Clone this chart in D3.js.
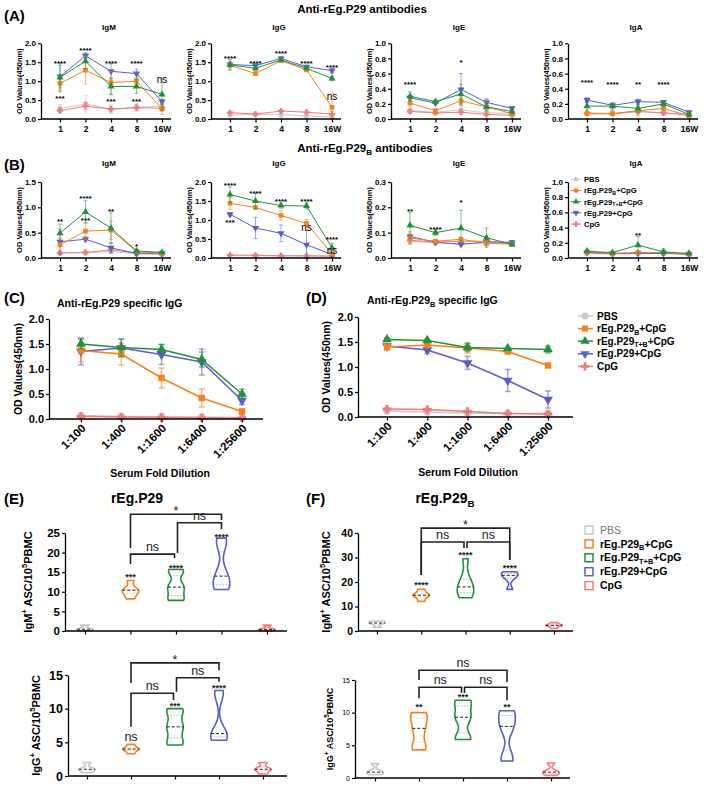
<!DOCTYPE html>
<html><head><meta charset="utf-8">
<script src="https://cdn.jsdelivr.net/npm/d3@7"></script>
<style>body{margin:0;background:#fff} svg{display:block} text{font-family:"Liberation Sans",Arial,sans-serif}</style>
</head><body><svg id="c" width="709" height="788"></svg>
<script>
// ---------- DATA ----------
const timepoints = ["1","2","4","8","16W"];
const dilutions = ["1:100","1:400","1:1600","1:6400","1:25600"];
// group order: PBS, rEg.P29B+CpG, rEg.P29T+B+CpG, rEg.P29+CpG, CpG
const groupLabels = [[["PBS"]],[["rEg.P29"],["B","sub"],["+CpG"]],[["rEg.P29"],["T+B","sub"],["+CpG"]],[["rEg.P29+CpG"]],[["CpG"]]];
const groupColors = ["#c9c9c9","#f5821f","#23913c","#5d5dca","#f27a7a"];

// (A) Anti-rEg.P29 antibodies (means, SD)
const aIgM = [[0.28,0.40,0.26,0.31,0.34],[0.94,1.29,0.96,1.00,0.27],[1.10,1.53,0.86,0.86,0.65],[1.12,1.67,1.26,1.20,0.46],[0.22,0.34,0.26,0.30,0.28]];
const aIgMErr = [[0.10,0.22,0.12,0.10,0.08],[0.18,0.37,0.30,0.08,0.15],[0.38,0.20,0.22,0.18,0.43],[0.30,0.08,0.20,0.12,0.06],[0.05,0.10,0.08,0.08,0.05]];
const aIgG = [[0.11,0.12,0.12,0.08,0.06],[1.42,1.20,1.54,1.30,0.31],[1.43,1.34,1.56,1.34,1.07],[1.44,1.41,1.60,1.38,1.28],[0.17,0.13,0.21,0.18,0.13]];
const aIgGErr = [[0.03,0.03,0.08,0.05,0.03],[0.10,0.04,0.04,0.05,0.37],[0.14,0.05,0.04,0.04,0.06],[0.04,0.04,0.04,0.03,0.06],[0.03,0.03,0.04,0.04,0.10]];
const aIgE = [[0.11,0.09,0.12,0.08,0.08],[0.21,0.11,0.24,0.16,0.07],[0.30,0.23,0.33,0.16,0.10],[0.28,0.21,0.39,0.22,0.14],[0.10,0.08,0.09,0.06,0.05]];
const aIgEErr = [[0.03,0.02,0.04,0.04,0.02],[0.05,0.02,0.05,0.11,0.02],[0.06,0.02,0.13,0.05,0.03],[0.03,0.02,0.21,0.04,0.02],[0.02,0.02,0.03,0.06,0.02]];
const aIgA = [[0.07,0.07,0.10,0.08,0.07],[0.07,0.07,0.11,0.14,0.04],[0.17,0.17,0.14,0.20,0.06],[0.25,0.18,0.23,0.22,0.09],[0.08,0.07,0.10,0.08,0.05]];
const aIgAErr = [[0.02,0.02,0.07,0.02,0.02],[0.02,0.02,0.06,0.04,0.01],[0.05,0.05,0.05,0.04,0.02],[0.03,0.02,0.03,0.02,0.01],[0.02,0.02,0.03,0.02,0.01]];

// (B) Anti-rEg.P29B antibodies
const bIgM = [[0.10,0.10,0.13,0.08,0.07],[0.26,0.53,0.55,0.13,0.09],[0.49,0.91,0.59,0.14,0.11],[0.32,0.37,0.20,0.09,0.10],[0.10,0.11,0.16,0.10,0.08]];
const bIgMErr = [[0.02,0.02,0.03,0.02,0.01],[0.12,0.17,0.18,0.03,0.02],[0.18,0.22,0.30,0.03,0.02],[0.25,0.05,0.10,0.02,0.02],[0.02,0.02,0.03,0.02,0.01]];
const bIgG = [[0.06,0.06,0.05,0.05,0.05],[1.44,1.33,1.12,0.91,0.11],[1.67,1.50,1.38,1.37,0.27],[1.15,0.79,0.65,0.35,0.09],[0.08,0.07,0.06,0.06,0.05]];
const bIgGErr = [[0.01,0.01,0.01,0.01,0.01],[0.16,0.05,0.12,0.10,0.03],[0.20,0.20,0.07,0.08,0.12],[0.05,0.28,0.22,0.38,0.02],[0.01,0.01,0.01,0.01,0.01]];
const bIgE = [[0.066,0.060,0.057,0.057,0.057],[0.079,0.066,0.074,0.059,0.054],[0.129,0.100,0.118,0.080,0.054],[0.085,0.062,0.054,0.063,0.062],[0.070,0.063,0.066,0.066,0.059]];
const bIgEErr = [[0.010,0.005,0.005,0.010,0.005],[0.025,0.008,0.008,0.010,0.005],[0.050,0.010,0.070,0.038,0.005],[0.010,0.005,0.005,0.010,0.005],[0.010,0.005,0.005,0.010,0.005]];
const bIgA = [[0.06,0.05,0.06,0.06,0.06],[0.07,0.06,0.07,0.07,0.05],[0.09,0.07,0.17,0.08,0.06],[0.07,0.06,0.06,0.06,0.05],[0.08,0.06,0.07,0.07,0.05]];
const bIgAErr = [[0.01,0.01,0.01,0.01,0.01],[0.02,0.01,0.02,0.02,0.01],[0.02,0.01,0.11,0.04,0.01],[0.01,0.01,0.01,0.01,0.01],[0.02,0.01,0.02,0.02,0.01]];

// (C)/(D) specific IgG by dilution
const cIgG = [[0.07,0.05,0.05,0.04,0.03],[1.37,1.30,0.82,0.42,0.15],[1.50,1.43,1.39,1.19,0.50],[1.35,1.42,1.29,1.14,0.37],[0.05,0.04,0.03,0.02,0.02]];
const cIgGErr = [[0.02,0.02,0.02,0.01,0.01],[0.23,0.22,0.20,0.18,0.04],[0.10,0.17,0.10,0.15,0.10],[0.27,0.18,0.20,0.26,0.08],[0.01,0.01,0.01,0.01,0.01]];
const dIgG = [[0.12,0.10,0.08,0.07,0.07],[1.40,1.44,1.38,1.31,1.03],[1.55,1.53,1.39,1.37,1.35],[1.42,1.34,1.08,0.73,0.35],[0.16,0.15,0.11,0.07,0.06]];
const dIgGErr = [[0.02,0.02,0.02,0.01,0.01],[0.06,0.04,0.10,0.03,0.02],[0.03,0.03,0.08,0.02,0.07],[0.05,0.07,0.13,0.22,0.17],[0.02,0.02,0.02,0.01,0.01]];

// significance annotations [time index, value, text]
const aIgMSig = [[0,1.52,"****"],[1,1.87,"****"],[2,1.52,"****"],[3,1.52,"****"],[4,1.02,"ns"],[0,0.59,"***"],[2,0.53,"***"],[3,0.53,"***"]];
const aIgGSig = [[0,1.67,"****"],[1,1.54,"****"],[2,1.78,"****"],[3,1.54,"****"],[4,1.43,"****"],[4,0.57,"ns"]];
const aIgESig = [[0,0.49,"****"],[2,0.78,"*"]];
const aIgASig = [[0,0.51,"****"],[1,0.49,"****"],[2,0.49,"**"],[3,0.49,"****"]];
const bIgMSig = [[0,0.76,"**"],[1,1.22,"****"],[1,0.78,"***"],[2,0.96,"**"],[3,0.28,"*"]];
const bIgGSig = [[0,1.98,"****"],[1,1.76,"****"],[2,1.54,"****"],[3,1.54,"****"],[3,0.79,"ns"],[4,0.54,"****"],[4,0.18,"ns"],[0,0.99,"***"]];
const bIgESig = [[0,0.192,"**"],[1,0.122,"****"],[2,0.228,"*"]];
const bIgASig = [[2,0.33,"**"]];

// (E)/(F) ASC per 10^5 PBMC, individual values per group
const eIgM = [[0,0.3,0.6,1.5],[8.2,9.5,10.4,10.6,12.9],[7.8,8.4,11,11.4,15,15.7],[10.6,11.4,13,15,22,23.7],[0,0.3,0.5,1.5]];
const eIgG = [[0.5,1,1,2],[3.3,3.8,4,4.2,4.7],[4.6,5.2,7,7.6,9.5,10],[5.3,5.8,6,6.6,12,12.7],[0.3,1,1,2]];
const fIgM = [[1.4,3,3.5,4.1],[12.1,14,14.6,15.2,17],[13.6,15,17.5,18.5,22,29.5],[17,21.5,22.7,23.5,24.2],[1,2,2.3,2.6,3.4]];
const fIgG = [[0.5,0.8,1,2.2],[4.3,5,7,8.2,9.5,10],[5.9,6.2,9,9.6,11.5,11.9],[2.6,3.2,7.5,8.3,10,10.3],[0.4,0.8,1,2.3]];
// brackets [fromGroup, toGroup, barValue, leftEndValue, rightEndValue, label]
const eIgMBr = [[1,2,19.6,17.1,18.6,"ns"],[1,3,29.8,21.2,28.3,"*"],[2,3,27.6,19.9,26.0,"ns"]];
const eIgGBr = [[1,3,16.8,13.8,15.7,"*"],[1,2,12.3,7.3,11.3,"ns"],[2,3,14.6,12.5,14.0,"ns"]];
const fIgMBr = [[1,3,42.0,22.9,29.0,"*"],[1,2,36.3,22.9,33.9,"ns"],[2,3,36.3,33.9,29.0,"ns"]];
const fIgGBr = [[1,3,16.5,15.0,14.7,"ns"],[1,2,13.9,12.2,13.0,"ns"],[2,3,13.9,13.0,11.9,"ns"]];
// per-group significance [group, value, text]
const eIgMSig = [[1,14.3,"***"],[2,16.6,"****"],[3,24.5,"****"]];
const eIgGSig = [[1,5.7,"ns"],[2,10.8,"***"],[3,13.5,"****"]];
const fIgMSig = [[1,19.6,"****"],[2,31.8,"****"],[3,26.5,"****"]];
const fIgGSig = [[1,11.2,"**"],[2,12.7,"***"],[3,11.2,"**"]];

// ---------- DRAWING ----------
const S = d3.select("#c");
const FONT = '"Liberation Sans",Arial,sans-serif';

function rich(t, parts, fs){
  let shift = 0;
  parts.forEach(p=>{
    const mode = p[1]||"n";
    const target = mode==="sub"? fs*0.25 : mode==="sup"? -fs*0.42 : 0;
    const ts = t.append("tspan").text(p[0]).attr("dy", target-shift);
    ts.attr("font-size", mode!=="n"? fs*0.7 : fs);
    shift = target;
  });
  return t;
}
function txt(x,y,parts,fs,opts={}){
  const t = S.append("text").attr("x",x).attr("y",y).attr("font-size",fs)
    .attr("font-weight",opts.weight||"bold").attr("text-anchor",opts.anchor||"start")
    .attr("fill",opts.fill||"#000");
  if(opts.rotate) t.attr("transform",`rotate(${opts.rotate},${x},${y})`);
  return rich(t, typeof parts==="string"?[[parts]]:parts, fs);
}
function symPath(i,size){
  const types=[d3.symbolCircle,d3.symbolSquare,d3.symbolTriangle,d3.symbolTriangle,d3.symbolCross];
  return d3.symbol().type(types[i]).size(size)();
}
function marker(g,i,x,y,size){
  g.append("path").attr("d",symPath(i,size)).attr("fill",groupColors[i])
   .attr("transform",`translate(${x},${y})${i===3?" rotate(180)":""}`);
}
function sigBaseline(cy,text,fs){ return /[a-z]/.test(text)? cy+0.27*fs : cy+0.6*fs; }

function yAxis(g,y,x0,ticks,fmt,fs,weight){
  const ax = g.append("g").attr("transform",`translate(${x0},0)`)
    .call(d3.axisLeft(y).tickValues(ticks).tickFormat(fmt).tickSize(3).tickSizeOuter(0).tickPadding(2));
  ax.select(".domain").attr("stroke","#000").attr("stroke-width",1.3);
  ax.selectAll(".tick line").attr("stroke","#000").attr("stroke-width",1.2);
  ax.selectAll("text").attr("font-size",fs).attr("font-weight",weight||"bold").attr("font-family",FONT).attr("fill","#000");
  return ax;
}
function xAxis(g,x,x0,xEnd,yb,fs,labels){
  const ax = g.append("g").attr("transform",`translate(0,${yb})`)
    .call(d3.axisBottom(x).tickSize(3.5).tickSizeOuter(0).tickPadding(3));
  ax.select(".domain").remove();
  ax.selectAll(".tick line").attr("stroke","#000").attr("stroke-width",1.2);
  ax.selectAll("text").attr("font-size",fs).attr("font-weight","bold").attr("font-family",FONT).attr("fill","#000");
  if(!labels) ax.selectAll("text").remove();
  g.append("line").attr("x1",x0).attr("x2",xEnd).attr("y1",yb).attr("y2",yb).attr("stroke","#000").attr("stroke-width",1.3);
  return ax;
}

function linePanel(o){
  const g = S.append("g");
  const x = d3.scalePoint().domain(o.cats).range([o.x1,o.x2]);
  const y = d3.scaleLinear().domain([0,o.max]).range([o.yb,o.yt]);
  [0,4,3,1,2].forEach(i=>{
    const m=o.means[i], e=o.errs[i], c=groupColors[i];
    const eg=g.append("g").attr("stroke",c).attr("stroke-opacity",0.55).attr("stroke-width",o.lw);
    m.forEach((v,j)=>{
      const cx=x(o.cats[j]), lo=y(Math.max(0,v-e[j])), hi=y(v+e[j]);
      eg.append("line").attr("x1",cx).attr("x2",cx).attr("y1",lo).attr("y2",hi);
      eg.append("line").attr("x1",cx-o.cap).attr("x2",cx+o.cap).attr("y1",hi).attr("y2",hi);
      eg.append("line").attr("x1",cx-o.cap).attr("x2",cx+o.cap).attr("y1",lo).attr("y2",lo);
    });
    g.append("path").datum(m).attr("fill","none").attr("stroke",c).attr("stroke-width",o.lw)
      .attr("d",d3.line().x((d,j)=>x(o.cats[j])).y(d=>y(d)));
    m.forEach((v,j)=>marker(g,i,x(o.cats[j]),y(v),o.ms));
  });
  yAxis(g,y,o.x0,d3.range(0,o.max+o.step/2,o.step),d3.format(o.fmt),o.tfs);
  const ax = xAxis(g,x,o.x0,o.xEnd,o.yb,o.xfs||o.tfs,true);
  if(o.rotate){
    ax.selectAll("text").attr("text-anchor","end").attr("dy",null).attr("y",0)
      .attr("transform","translate(5,10) rotate(-45)");
  }
  txt(o.x0-o.ylabOff,(o.yt+o.yb)/2,"OD Values(450nm)",o.lfs,{anchor:"middle",rotate:-90});
  if(o.title) txt((o.x0+o.xEnd)/2+3,o.titleY,o.title,o.tifs,{anchor:"middle"});
  (o.sig||[]).forEach(s=>{
    const fs = /[a-z]/.test(s[2])? o.nsfs : o.afs;
    txt(x(o.cats[s[0]]),sigBaseline(y(s[1]),s[2],fs),s[2],fs,{anchor:"middle",weight:/[a-z]/.test(s[2])?"normal":"bold"});
  });
  return {x,y};
}

function violinPanel(o){
  const g = S.append("g");
  const x = d3.scalePoint().domain(d3.range(5)).range([o.x1,o.x2]);
  const y = d3.scaleLinear().domain([0,o.max]).range([o.yb,o.yt]);
  const W = 8.3;
  o.samples.forEach((vals,i)=>{
    const s = vals.slice().sort(d3.ascending);
    const lo=s[0], hi=s[s.length-1], h=Math.max((hi-lo)*0.17,0.15);
    const dens = v=>d3.mean(s,d=>Math.exp(-0.5*((v-d)/h)**2));
    const ys = d3.range(41).map(k=>lo+(hi-lo)*k/40);
    const ds = ys.map(dens), dm=d3.max(ds);
    const cx=x(i), c=groupColors[i];
    const pts = ys.map((v,k)=>[v,ds[k]/dm*W]);
    g.append("path").datum(pts).attr("fill","#fff").attr("stroke",c).attr("stroke-width",1.6)
      .attr("d",d3.area().curve(d3.curveMonotoneY).y(d=>y(d[0])).x0(d=>cx-d[1]).x1(d=>cx+d[1]));
    const q1=d3.quantile(s,0.25), md=d3.median(s), q3=d3.quantile(s,0.75);
    [q1,q3].forEach(q=>{const w=dens(q)/dm*W;
      g.append("line").attr("x1",cx-w).attr("x2",cx+w).attr("y1",y(q)).attr("y2",y(q))
       .attr("stroke",c).attr("stroke-opacity",0.6).attr("stroke-width",0.8).attr("stroke-dasharray","1.5,1.5");});
    const wm=dens(md)/dm*W;
    g.append("line").attr("x1",cx-wm).attr("x2",cx+wm).attr("y1",y(md)).attr("y2",y(md))
      .attr("stroke","#222").attr("stroke-width",1).attr("stroke-dasharray","3,2");
  });
  yAxis(g,y,o.x0,d3.range(0,o.max+o.step/2,o.step),d3.format("d"),o.tfs,o.tw);
  xAxis(g,x,o.x0,o.xEnd,o.yb,o.tfs,false);
  txt(o.x0-o.ylabOff,(o.yt+o.yb)/2,[["Ig"+o.iso],["+","sup"],[" ASC/10"],["5","sup"],["PBMC"]],o.lfs,{anchor:"middle",rotate:-90});
  o.brackets.forEach(b=>{
    let xa=x(b[0]), xb=x(b[1]);
    if(b[1]-b[0]===1 && b[0]===1) xb-=1.5;
    if(b[1]-b[0]===1 && b[0]===2) xa+=1.5;
    g.append("path").attr("fill","none").attr("stroke","#222").attr("stroke-width",1.6)
      .attr("d",`M${xa},${y(b[3])}V${y(b[2])}H${xb}V${y(b[4])}`);
    const fs = 12.5;
    txt((xa+xb)/2,sigBaseline(y(b[2])-6.5,b[5],fs),b[5],fs,{anchor:"middle",weight:"normal",fill:"#222"});
  });
  o.sig.forEach(s=>{
    const isNs=/[a-z]/.test(s[2]); const fs=isNs?12.5:9;
    txt(x(s[0]),sigBaseline(y(s[1]),s[2],fs),s[2],fs,{anchor:"middle",weight:isNs?"normal":"bold",fill:"#222"});
  });
}

// Panel headers
txt(4,21,"(A)",15);
txt(362,13,"Anti-rEg.P29 antibodies",11.5,{anchor:"middle"});
txt(4,170,"(B)",15);
txt(365,152,[["Anti-rEg.P29"],["B","sub"],[" antibodies"]],11.5,{anchor:"middle"});

const smallA = {cats:timepoints,lw:1,cap:2,ms:22,tfs:8,xfs:8.5,lfs:7.5,ylabOff:19,tifs:8,afs:8,nsfs:10};
const colsX = [41,211,391,568];
const isoNames = ["IgM","IgG","IgE","IgA"];
const aSets = [[aIgM,aIgMErr,2,0.5,aIgMSig],[aIgG,aIgGErr,2,0.5,aIgGSig],[aIgE,aIgEErr,1,0.2,aIgESig],[aIgA,aIgAErr,1,0.2,aIgASig]];
aSets.forEach((s,k)=>{
  const x0=colsX[k];
  linePanel(Object.assign({},smallA,{x0,x1:x0+19,x2:x0+121,xEnd:x0+130,yt:43.3,yb:119,max:s[2],step:s[3],fmt:".1f",
    means:s[0],errs:s[1],sig:s[4],title:isoNames[k],titleY:30}));
});
const bSets = [[bIgM,bIgMErr,1.5,0.5,bIgMSig],[bIgG,bIgGErr,2,0.5,bIgGSig],[bIgE,bIgEErr,0.3,0.1,bIgESig],[bIgA,bIgAErr,1,0.2,bIgASig]];
bSets.forEach((s,k)=>{
  const x0=colsX[k];
  linePanel(Object.assign({},smallA,{x0,x1:x0+19,x2:x0+121,xEnd:x0+130,yt:182,yb:258,max:s[2],step:s[3],fmt:".1f",
    means:s[0],errs:s[1],sig:s[4],title:isoNames[k],titleY:166}));
});
// legend in B IgA
groupLabels.forEach((lab,i)=>{
  const yy=179.3+i*11.2;
  S.append("line").attr("x1",571).attr("x2",581).attr("y1",yy).attr("y2",yy).attr("stroke",groupColors[i]).attr("stroke-width",1);
  marker(S,i,576,yy,18);
  txt(584,yy+2.8,lab,7.6);
});

// (C) and (D)
txt(4,303,"(C)",15);
txt(57,307,"Anti-rEg.P29 specific IgG",10.5);
linePanel({cats:dilutions,lw:1.5,cap:3,ms:42,tfs:11,xfs:11.5,lfs:10.5,ylabOff:27,x0:49,x1:81,x2:242,xEnd:263,yt:319,yb:419,max:2,step:0.5,fmt:".1f",
  means:cIgG,errs:cIgGErr,rotate:true});
txt(160,477,"Serum Fold Dilution",10.5,{anchor:"middle"});
txt(306,303,"(D)",15);
txt(367,304,[["Anti-rEg.P29"],["B","sub"],[" specific IgG"]],10.5);
linePanel({cats:dilutions,lw:1.5,cap:3,ms:42,tfs:11,xfs:11.5,lfs:10.5,ylabOff:28,x0:358,x1:387,x2:548,xEnd:573,yt:317,yb:417,max:2,step:0.5,fmt:".1f",
  means:dIgG,errs:dIgGErr,rotate:true});
txt(468,476,"Serum Fold Dilution",10.5,{anchor:"middle"});
groupLabels.forEach((lab,i)=>{
  const yy=316+i*12.6;
  S.append("line").attr("x1",578).attr("x2",593).attr("y1",yy).attr("y2",yy).attr("stroke",groupColors[i]).attr("stroke-width",1.5);
  marker(S,i,585,yy,36);
  txt(597,yy+3.5,lab,10);
});

// (E) and (F)
txt(4,504,"(E)",15);
txt(137,503,"rEg.P29",14,{anchor:"middle"});
txt(306,504,"(F)",15);
txt(445,503,[["rEg.P29"],["B","sub"]],14,{anchor:"middle"});
violinPanel({iso:"M",x0:65,x1:85,x2:267,xEnd:287,yt:533,yb:631,max:25,step:5,tfs:11.5,lfs:11,ylabOff:33,samples:eIgM,brackets:eIgMBr,sig:eIgMSig});
violinPanel({iso:"G",x0:68,x1:87,x2:263,xEnd:287,yt:675,yb:776,max:15,step:5,tfs:12.5,lfs:11,ylabOff:28,samples:eIgG,brackets:eIgGBr,sig:eIgGSig});
violinPanel({iso:"M",x0:358,x1:377,x2:554,xEnd:573,yt:533,yb:631,max:40,step:10,tfs:10.5,lfs:11,ylabOff:28,samples:fIgM,brackets:fIgMBr,sig:fIgMSig});
violinPanel({iso:"G",x0:355,x1:375,x2:551,xEnd:570,yt:680,yb:778,max:15,step:5,tfs:7,tw:"normal",lfs:9,ylabOff:22,samples:fIgG,brackets:fIgGBr,sig:fIgGSig});
groupLabels.forEach((lab,i)=>{
  const yy=530+i*13.9;
  S.append("rect").attr("x",585).attr("y",yy-4).attr("width",8).attr("height",8).attr("fill","none").attr("stroke",groupColors[i]).attr("stroke-width",1.5);
  txt(600,yy+3.6,lab,10.5,{fill:i===0?"#777":"#000",weight:i===0?"normal":"bold"});
});
</script></body></html>
